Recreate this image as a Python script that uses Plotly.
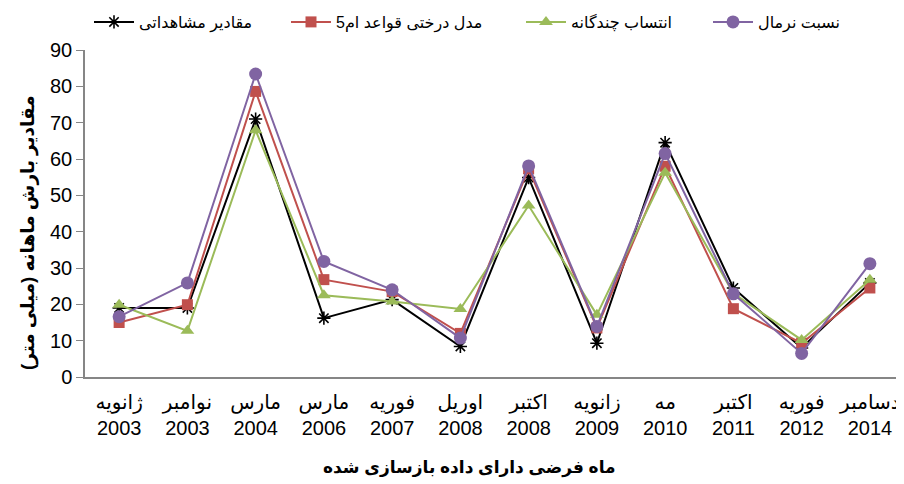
import plotly.graph_objects as go

months = ["ژانویه", "نوامبر", "مارس", "مارس", "فوریه", "اوریل", "اکتبر", "زانویه", "مه", "اکتبر", "فوریه", "دسامبر"]
years = ["2003", "2003", "2004", "2006", "2007", "2008", "2008", "2009", "2010", "2011", "2012", "2014"]
tick_labels = [f"{m}<br>{y}" for m, y in zip(months, years)]

observed = [19.0, 19.0, 71.0, 16.2, 21.3, 8.4, 54.9, 9.3, 64.5, 24.5, 8.0, 25.9]
m5_tree = [15.0, 19.9, 78.6, 26.8, 23.5, 12.0, 57.3, 13.5, 58.0, 18.8, 9.3, 24.5]
multiple_imp = [19.9, 12.7, 67.9, 22.5, 20.8, 18.7, 47.2, 17.1, 56.2, 23.0, 10.2, 26.8]
normal_ratio = [16.6, 25.9, 83.4, 31.8, 24.0, 10.7, 58.1, 13.9, 61.5, 22.9, 6.5, 31.2]

names = ["مقادیر مشاهداتی", "مدل درختی قواعد ام5", "انتساب چندگانه", "نسبت نرمال"]
x_title = "ماه فرضی دارای داده بازسازی شده"
y_title = "مقادیر بارش ماهانه (میلی متر)"
colors = ["#000000", "#C0504D", "#9BBB59", "#8064A2"]
symbols = ["asterisk-open", "square", "triangle-up", "circle"]
sizes = [11, 11, 12, 13]
series = [observed, m5_tree, multiple_imp, normal_ratio]

FONT = "Liberation Sans, DejaVu Sans, Arial, sans-serif"
x = list(range(len(tick_labels)))

fig = go.Figure()
legend_ids = ["legend", "legend2", "legend3", "legend4"]
for i, (nm, c, s, sz, vals) in enumerate(zip(names, colors, symbols, sizes, series)):
    fig.add_trace(go.Scatter(
        x=x, y=vals, name=nm, mode="lines+markers",
        line=dict(color=c, width=2),
        marker=dict(symbol=s, size=sz, color=c, line=dict(color=c, width=1.6 if i == 0 else 0)),
        legend=legend_ids[i],
    ))

# page body has an 8px margin, so the figure is drawn from (8, 8)
W, H = 896, 476
ml, mr, mt, mb = 77, 0, 42, 107
pw = W - ml - mr
ph = H - mt - mb
leg_px = [81, 278, 513, 700]
legend_common = dict(orientation="h", yanchor="middle", yref="container", y=1 - 14 / H,
                     xanchor="left", font=dict(family=FONT, size=16, color="#000000"),
                     bgcolor="rgba(0,0,0,0)", itemwidth=40)
layout_legends = {}
for lid, px in zip(legend_ids, leg_px):
    d = dict(legend_common)
    d["x"] = (px - ml) / pw
    layout_legends[lid] = d

# axis titles placed as annotations (positions in figure pixels)
ytitle_cx, ytitle_cy = 20, 225
xtitle_cx, xtitle_cy = 461, 460

fig.update_layout(
    width=W, height=H,
    margin=dict(l=ml, r=mr, t=mt, b=mb, autoexpand=False),
    paper_bgcolor="white", plot_bgcolor="white",
    font=dict(family=FONT, size=18, color="#000000"),
    showlegend=True,
    **layout_legends,
    xaxis=dict(
        tickmode="array", tickvals=x, ticktext=tick_labels,
        range=[-0.5, len(x) - 0.5], automargin=False,
        showline=True, linecolor="#868686", linewidth=1.5,
        showgrid=False, zeroline=False, ticks="outside", ticklen=6, tickcolor="rgba(0,0,0,0)",
        tickfont=dict(family=FONT, size=20),
    ),
    yaxis=dict(
        range=[0, 90], tickmode="linear", tick0=0, dtick=10, automargin=False,
        showline=True, linecolor="#868686", linewidth=1.5,
        showgrid=False, zeroline=False,
        ticks="outside", ticklen=7, tickcolor="#868686",
        tickfont=dict(family=FONT, size=20),
    ),
    annotations=[
        dict(text=f"<b>{y_title}</b>", textangle=-90, showarrow=False,
             xref="paper", yref="paper",
             x=(ytitle_cx - ml) / pw, y=(H - mb - ytitle_cy) / ph,
             xanchor="center", yanchor="middle",
             font=dict(family=FONT, size=18.5, color="#000000")),
        dict(text=f"<b>{x_title}</b>", showarrow=False,
             xref="paper", yref="paper",
             x=(xtitle_cx - ml) / pw, y=(H - mb - xtitle_cy) / ph,
             xanchor="center", yanchor="middle",
             font=dict(family=FONT, size=17, color="#000000")),
    ],
)

fig.write_html("out.html")
